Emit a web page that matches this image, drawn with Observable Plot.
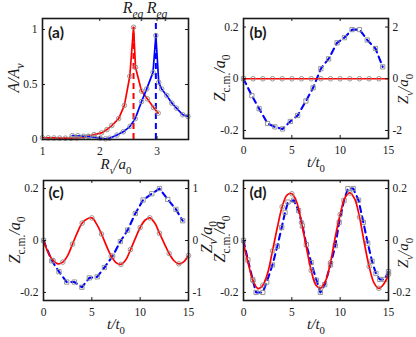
<!DOCTYPE html>
<html><head><meta charset="utf-8">
<script src="https://cdn.jsdelivr.net/npm/d3@7"></script>
<script src="https://cdn.jsdelivr.net/npm/@observablehq/plot@0.6"></script>
<style>
body{margin:0;background:#fff;}
#chart{position:relative;width:416px;height:337px;overflow:hidden;}
#chart svg{position:absolute;left:0;top:0;}
</style></head><body><div id="chart"></div>
<script>
// ---------- panel (a) ----------
const aRedR  = [1.0,1.1,1.2,1.3,1.4,1.5,1.6,1.7,1.8,1.9,2.03,2.125,2.21,2.33,2.43,2.525,2.59,2.625,2.73,2.83,2.94,3.02];
const aRedA  = [0.016,0.015,0.014,0.013,0.012,0.012,0.014,0.02,0.03,0.045,0.06,0.09,0.127,0.19,0.31,0.575,1.02,0.655,0.44,0.37,0.29,0.24];
const aBlueR = [1.52,1.62,1.72,1.81,1.91,2.01,2.1,2.17,2.3,2.41,2.53,2.62,2.73,2.82,2.93,2.98,3.03,3.08,3.17,3.26,3.34,3.45,3.54];
const aBlueA = [0.035,0.034,0.03,0.025,0.02,0.012,0.006,0.012,0.04,0.07,0.12,0.19,0.345,0.46,0.61,0.945,0.52,0.46,0.40,0.33,0.285,0.225,0.21];
const aReqR   = [2.59, 2.98];
const aReqTop = [1.02, 1.1];
const aXTicks = [1, 2, 3];
const aYTicks = [0, 0.5, 1];

// ---------- panel (b) ----------
const bRedT  = [0,1,2,3,4,5,6,7,8,9,10,11,12,13,14,15];
const bRedZ  = [0,0,0,0,0,0,0,0,0,0,0,0,0,0,0,0];
const bBlueT  = [0,0.86,1.62,2.49,3.25,4.04,4.84,5.6,6.46,7.2,8.0,8.8,9.68,10.44,11.23,12.0,12.8,13.65,14.4];
const bBlueZv = [0,-0.65,-1.16,-1.73,-1.86,-1.94,-1.65,-1.42,-0.86,-0.35,0.39,0.77,1.39,1.59,1.9,1.9,1.5,1.17,0.46];
const bRightTicks = [-2, 0, 2];
const bRightFactor = 10;

// ---------- panel (c) ----------
const cRedT = [0,0.5,1,1.5,2,2.5,3,3.5,4,4.5,5,5.5,6,6.5,7,7.5,8,8.5,9,9.5,10,10.5,11,11.5,12,12.5,13,13.5,14,14.5,15];
const cRedZ = [0,-0.048,-0.077,-0.09,-0.083,-0.058,-0.014,0.03,0.067,0.083,0.087,0.063,0.025,-0.02,-0.06,-0.085,-0.092,-0.075,-0.035,0.008,0.05,0.078,0.087,0.068,0.028,-0.012,-0.05,-0.078,-0.09,-0.082,-0.058];
const cBlueT  = [0,0.86,1.6,2.4,3.2,3.97,4.74,5.55,6.3,7.15,7.95,8.7,9.5,10.3,11.2,12.0,12.86,13.7,14.4];
const cBlueZv = [0,-0.39,-0.6,-0.8,-0.8,-0.9,-0.72,-0.7,-0.52,-0.3,-0.02,0.2,0.52,0.78,0.9,1.0,0.79,0.6,0.38];
const cRightTicks = [-1, 0, 1];
const cRightFactor = 5;

// ---------- panel (d) ----------
const dRedT = [0,0.5,1,1.5,2,2.5,3,3.5,4,4.5,5,5.5,6,6.5,7,7.5,8,8.5,9,9.5,10,10.5,11,11.5,12,12.5,13,13.5,14,14.5,15];
const dRedZ = [-0.01,-0.09,-0.155,-0.185,-0.172,-0.125,-0.04,0.05,0.13,0.175,0.18,0.148,0.07,-0.025,-0.115,-0.172,-0.183,-0.155,-0.085,0.015,0.1,0.165,0.183,0.16,0.09,-0.01,-0.1,-0.163,-0.184,-0.168,-0.13];
const dBlueT  = [0,0.45,0.95,1.3,2.0,2.4,3.0,3.5,3.95,4.3,4.6,5.2,5.7,6.1,6.5,7.0,7.55,7.95,8.4,9.0,9.5,9.9,10.4,10.8,11.35,11.9,12.4,12.85,13.3,13.7,14.1,14.6,15];
const dBlueZv = [0,-0.075,-0.15,-0.2,-0.2,-0.16,-0.094,-0.022,0.05,0.108,0.148,0.155,0.115,0.056,-0.016,-0.085,-0.153,-0.2,-0.17,-0.094,-0.02,0.07,0.154,0.2,0.2,0.155,0.07,-0.01,-0.08,-0.127,-0.15,-0.15,-0.12];
const dRightTicks = [-0.2, 0, 0.2];
const dRightFactor = 1;

const tTicks = [0, 5, 10, 15];
const zTicks = [-0.2, 0, 0.2];

const W = 416, H = 337;
const INK = "#1a1a1a";
const GRAY = "#8c8c8c";
const zip = (xs, ys) => xs.map((x, i) => ({x, y: ys[i]}));
const fmt = d => String(d);

function frameMarks(xt, yt, fh, fw) {
  const k = 3;
  return [
    Plot.tickX(xt, {x: d => d, insetTop: fh - k, stroke: INK}),
    Plot.tickX(xt, {x: d => d, insetBottom: fh - k, stroke: INK}),
    Plot.tickY(yt, {y: d => d, insetRight: fw - k, stroke: INK}),
    Plot.tickY(yt, {y: d => d, insetLeft: fw - k, stroke: INK}),
    Plot.frame({stroke: INK, strokeWidth: 1.6})
  ];
}

function panel(box, xd, yd, xt, yt, marks) {
  const [x0, x1, y0, y1] = box;
  return Plot.plot({
    width: W, height: H,
    marginLeft: x0, marginRight: W - x1, marginTop: y0, marginBottom: H - y1,
    x: {domain: xd, axis: null},
    y: {domain: yd, axis: null},
    style: {background: "transparent", overflow: "visible", fontFamily: "Liberation Serif", fontSize: "11.5px", color: INK},
    marks: [
      ...marks,
      ...frameMarks(xt, yt, y1 - y0, x1 - x0),
      Plot.axisX(xt, {anchor: "bottom", tickSize: 0, tickPadding: 7, tickFormat: fmt, label: null}),
      Plot.axisY(yt, {anchor: "left", tickSize: 0, tickPadding: 5, tickFormat: fmt, label: null})
    ]
  });
}

function rightAxis(ticks, factor) {
  return Plot.axisY(ticks.map(v => v / factor), {anchor: "right", tickSize: 0, tickPadding: 4, tickFormat: d => String(Math.round(d * factor * 10) / 10), label: null});
}

function redLine(data, curve) {
  return Plot.line(data, {x: "x", y: "y", stroke: "#ff0000", strokeWidth: 1.7, curve});
}
function blueDash(data) {
  return Plot.line(data, {x: "x", y: "y", stroke: "#0000ff", strokeWidth: 2.1, strokeDasharray: "6,4.5"});
}
function circles(data) {
  return Plot.dot(data, {x: "x", y: "y", r: 2.3, stroke: GRAY, strokeWidth: 0.9, fill: "none"});
}
function squares(data) {
  return Plot.dot(data, {x: "x", y: "y", symbol: "square", r: 2.4, stroke: GRAY, strokeWidth: 0.9, fill: "none"});
}

// text helper with subscripts (parts: [text, isSub, italic])
function label(svg, x, y, parts, opt = {}) {
  const size = opt.size || 15;
  const t = d3.select(svg).append("text")
    .attr("transform", `translate(${x},${y})` + (opt.rotate ? ` rotate(${opt.rotate})` : ""))
    .attr("text-anchor", opt.anchor || "middle")
    .attr("font-family", opt.family || "Liberation Serif")
    .attr("font-size", size)
    .attr("fill", INK);
  if (opt.bold) t.attr("font-weight", "bold");
  let shifted = false;
  const sub = size * 0.3;
  for (const [s, isSub, ital] of parts) {
    const ts = t.append("tspan").text(s);
    if (ital) ts.attr("font-style", "italic");
    if (isSub) { ts.attr("font-size", size * 0.72); if (!shifted) { ts.attr("dy", sub); shifted = true; } }
    else if (shifted) { ts.attr("dy", -sub); shifted = false; }
  }
  return t;
}

const chart = document.getElementById("chart");

// (a)
const aRed = zip(aRedR, aRedA), aBlue = zip(aBlueR, aBlueA);
const aDom = [0, 1.1];
const svgA = panel([42, 188, 18, 139], [1, 3.55], aDom, aXTicks, aYTicks, [
  Plot.ruleX(aReqR, {x: d => d, y1: aDom[0], y2: (d, i) => aReqTop[i], stroke: (d, i) => ["#ff0000", "#0000ff"][i], strokeWidth: 2, strokeDasharray: "6,4"}),
  redLine(aRed, "linear"),
  Plot.line(aBlue, {x: "x", y: "y", stroke: "#0000ff", strokeWidth: 1.7}),
  circles(aRed), circles(aBlue)
]);
chart.append(svgA);
label(svgA, 56, 38, [["(a)"]], {bold: true, family: "Lato", size: 15.5});
label(svgA, 19, 78, [["A", false, true], ["/", false, true], ["A", false, true], ["v", true, true]], {rotate: -90, size: 16});
label(svgA, 116, 169, [["R", false, true], ["v", true, true], ["/", false, true], ["a", false, true], ["0", true]], {size: 15});
label(svgA, 133, 13, [["R", false, true], ["eq", true, true]], {size: 16});
label(svgA, 157, 13, [["R", false, true], ["eq", true, true]], {size: 16});

// (b)
const bRed = zip(bRedT, bRedZ), bBlue = zip(bBlueT, bBlueZv.map(v => v / bRightFactor));
const svgB = panel([243, 388, 18, 138], [0, 15], [-0.231, 0.233], tTicks, zTicks, [
  blueDash(bBlue), squares(bBlue),
  redLine(bRed, "linear"), circles(bRed.filter(d => d.x > 0 && d.x < 15)),
  rightAxis(bRightTicks, bRightFactor)
]);
chart.append(svgB);
label(svgB, 258, 38, [["(b)"]], {bold: true, family: "Lato", size: 15.5});
label(svgB, 225, 78, [["Z", false, true], ["c.m.", true], ["/", false, true], ["a", false, true], ["0", true]], {rotate: -90, size: 16});
label(svgB, 408, 89, [["Z", false, true], ["v", true, true], ["/", false, true], ["a", false, true], ["0", true]], {rotate: -90, size: 15});
label(svgB, 316, 167, [["t", false, true], ["/", false, true], ["t", false, true], ["0", true]], {size: 15});

// (c)
const cRed = zip(cRedT, cRedZ), cBlue = zip(cBlueT, cBlueZv.map(v => v / cRightFactor));
const svgC = panel([43, 188, 180, 300], [0, 15], [-0.231, 0.231], tTicks, zTicks, [
  blueDash(cBlue), squares(cBlue),
  redLine(cRed, "catmull-rom"), circles(cRed.filter(d => Number.isInteger(d.x) && d.x > 0)),
  rightAxis(cRightTicks, cRightFactor)
]);
chart.append(svgC);
label(svgC, 56, 198, [["(c)"]], {bold: true, family: "Lato", size: 15.5});
label(svgC, 20, 240, [["Z", false, true], ["c.m.", true], ["/", false, true], ["a", false, true], ["0", true]], {rotate: -90, size: 16});
label(svgC, 212, 237, [["Z", false, true], ["v", true, true], ["/", false, true], ["a", false, true], ["0", true]], {rotate: -90, size: 16});
label(svgC, 116, 329, [["t", false, true], ["/", false, true], ["t", false, true], ["0", true]], {size: 15});

// (d)
const dRed = zip(dRedT, dRedZ), dBlue = zip(dBlueT, dBlueZv.map(v => v / dRightFactor));
const svgD = panel([243, 388, 180, 300], [0, 15], [-0.231, 0.231], tTicks, zTicks, [
  blueDash(dBlue), squares(dBlue),
  redLine(dRed, "catmull-rom"), circles(dRed.filter(d => Number.isInteger(d.x) && d.x > 0)),
  rightAxis(dRightTicks, dRightFactor)
]);
chart.append(svgD);
label(svgD, 258, 198, [["(d)"]], {bold: true, family: "Lato", size: 15.5});
label(svgD, 225, 239, [["Z", false, true], ["c.m.", true], ["/", false, true], ["a", false, true], ["0", true]], {rotate: -90, size: 16});
label(svgD, 408, 253, [["Z", false, true], ["v", true, true], ["/", false, true], ["a", false, true], ["0", true]], {rotate: -90, size: 15});
label(svgD, 316, 329, [["t", false, true], ["/", false, true], ["t", false, true], ["0", true]], {size: 15});
</script></body></html>
